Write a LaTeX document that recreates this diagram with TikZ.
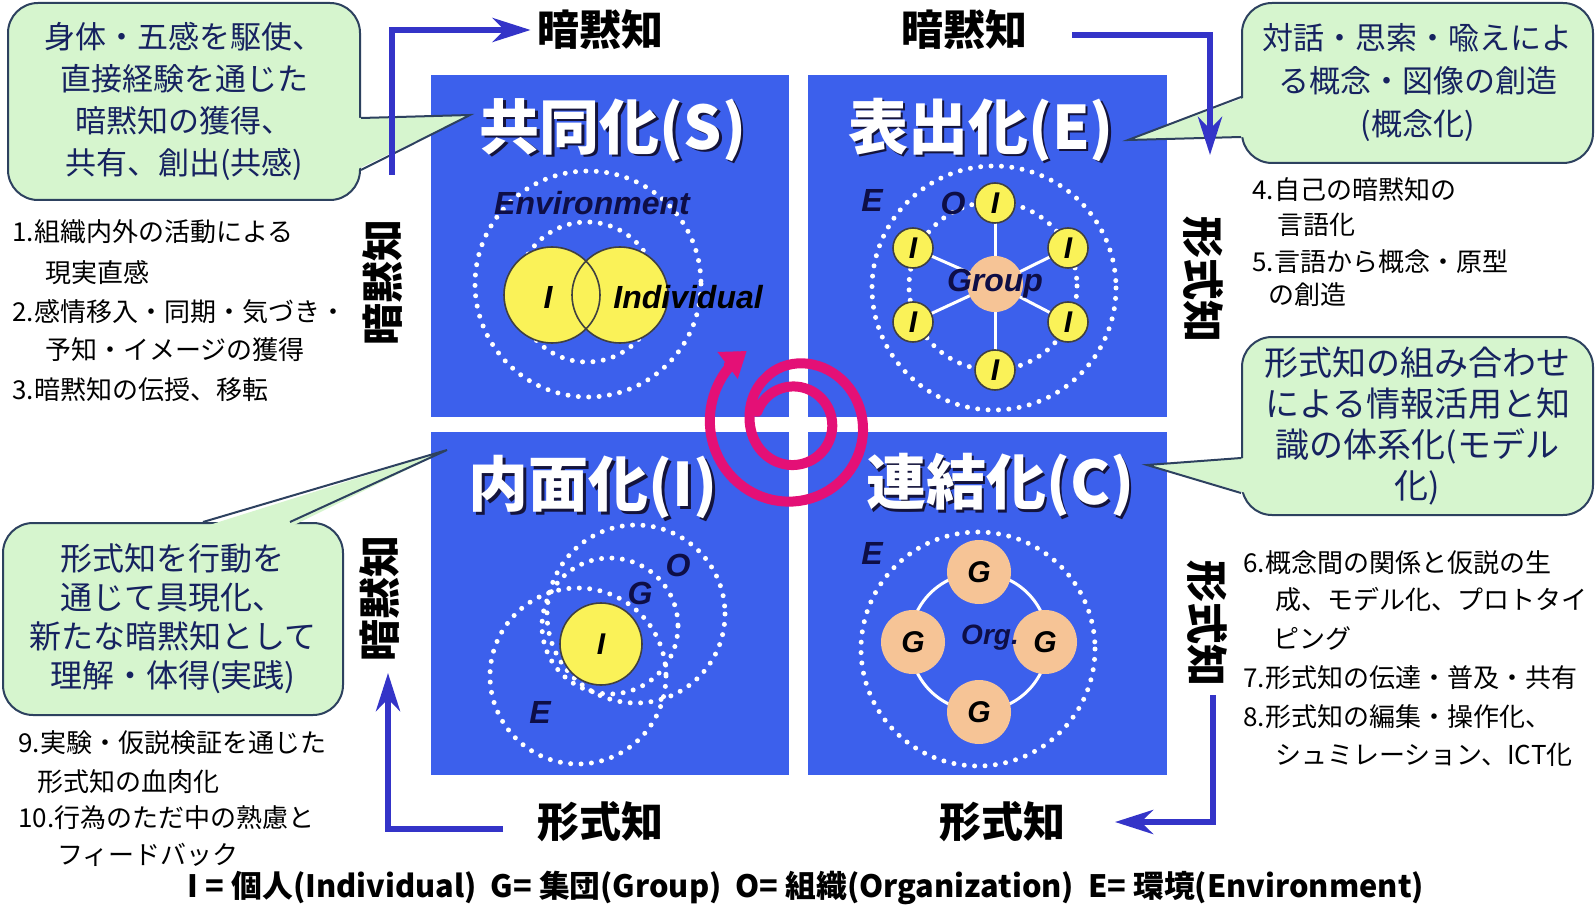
\documentclass[tikz,border=0pt]{standalone}
\usepackage{fontspec}
\usepackage{graphicx}
\setmainfont{Liberation Sans}
\newfontfamily\jp{Noto Sans CJK JP}
\usetikzlibrary{arrows.meta}
\definecolor{qblue}{RGB}{60,96,236}
\definecolor{arrblue}{RGB}{52,52,200}
\definecolor{callfill}{RGB}{214,245,206}
\definecolor{callline}{RGB}{45,65,95}
\definecolor{calltext}{RGB}{22,34,96}
\definecolor{navy}{RGB}{14,14,70}
\definecolor{yel}{RGB}{250,242,88}
\definecolor{peach}{RGB}{246,196,150}
\definecolor{spir}{RGB}{228,16,118}
\definecolor{shade}{RGB}{20,20,60}
\tikzset{
  declare function={sr(\a)=38+0.008*(\a-200)+20/(1+exp(min(-(\a-585)/22,9)))+0.065*max(\a-600,0);},
  dotc/.style={draw=white, line width=2.5pt, line cap=round, dash pattern=on 0pt off 5.2pt},
  ringline/.style={draw=black!75, line width=0.8pt},
  ttl/.style={text=white, font=\jp\bfseries\fontsize{30pt}{30pt}\selectfont, inner sep=0pt},
  ttlsh/.style={text=shade, font=\jp\bfseries\fontsize{30pt}{30pt}\selectfont, inner sep=0pt},
  lbl/.style={font=\bfseries\itshape\fontsize{16pt}{16pt}\selectfont, text=navy, inner sep=0pt},
  axislbl/.style={font=\jp\bfseries\fontsize{21pt}{21pt}\selectfont, inner sep=0pt},
  arr/.style={draw=arrblue, line width=3pt, -{Stealth[length=19pt,width=12pt,inset=6pt]}},
  callout/.style={draw=callline, line width=1pt, fill=callfill, rounded corners=15pt, text=calltext, align=center, inner sep=0pt},
  ptr/.style={draw=callline, line width=1pt, line join=miter},
  lst/.style={font=\jp\fontsize{13pt}{13pt}\selectfont, anchor=west, inner sep=0pt},
  icirc/.style={circle, fill=yel, draw=black!75, line width=0.8pt, minimum size=20pt, inner sep=0pt, font=\bfseries\itshape\fontsize{15pt}{15pt}\selectfont},
  gcirc/.style={circle, fill=peach, minimum size=32pt, inner sep=0pt, font=\bfseries\itshape\fontsize{15pt}{15pt}\selectfont},
}
\begin{document}
\begin{tikzpicture}[x=0.5pt,y=-0.5pt]
\useasboundingbox (0,0) rectangle (1595,909);
\fill[white] (0,0) rectangle (1595,909);
% quadrants
\fill[qblue] (431,75) rectangle (789,417);
\fill[qblue] (808,75) rectangle (1167,417);
\fill[qblue] (431,432) rectangle (789,775);
\fill[qblue] (808,432) rectangle (1167,775);

% ---------- Socialization (TL)
\draw[dotc] (588,284) circle[radius=113];
\draw[dotc] (587,292) circle[radius=70];
\fill[yel] (552,295) circle[radius=48];
\fill[yel] (620,295) circle[radius=48];
\draw[ringline] (552,295) circle[radius=48];
\draw[ringline] (620,295) circle[radius=48];
\node[lbl] (envS) at (592,203) {Environment};
\node[lbl, text=black] (iS) at (548,297) {I};
\node[lbl, text=black, anchor=west] (indS) at (613,297) {Individual};

% ---------- Externalization (TR)
\draw[dotc] (994,288) circle[radius=122];
\draw[dotc] (993,286) circle[radius=84];
\coordinate (gE) at (995,284);
\coordinate (pE1) at (995,203);
\coordinate (pE2) at (1068,248);
\coordinate (pE3) at (1068,322);
\coordinate (pE4) at (995,370);
\coordinate (pE5) at (913,322);
\coordinate (pE6) at (913,248);
\foreach \p in {pE1,pE2,pE3,pE4,pE5,pE6} \draw[white, line width=1.5pt] (gE) -- (\p);
\node[circle, fill=peach, minimum size=28pt, inner sep=0pt] (grpE) at (gE) {};
\node[lbl] (grpEl) at (gE) {Group};
\foreach \p/\n in {pE1/iE1,pE2/iE2,pE3/iE3,pE4/iE4,pE5/iE5,pE6/iE6} \node[icirc] (\n) at (\p) {I};
\node[lbl] (eE) at (872,200) {E};
\node[lbl] (oE) at (953,203) {O};

% ---------- Internalization (BL)
\draw[dotc] (636,614) circle[radius=89];
\draw[dotc] (610,626) circle[radius=68];
\draw[dotc] (578,676) circle[radius=88];
\node[circle, fill=yel, draw=black!75, line width=0.8pt, minimum size=41pt, inner sep=0pt, font=\bfseries\itshape\fontsize{15pt}{15pt}\selectfont] (iI) at (601,644) {I};
\node[lbl] (oI) at (678,565) {O};
\node[lbl] (gI) at (640,593) {G};
\node[lbl] (eI) at (540,712) {E};

% ---------- Combination (BR)
\draw[dotc] (978,649) circle[radius=117];
\draw[white, line width=1.5pt] (979,642) circle[radius=69];
\node[gcirc] (gC1) at (979,572) {G};
\node[gcirc] (gC2) at (1045,642) {G};
\node[gcirc] (gC3) at (979,712) {G};
\node[gcirc] (gC4) at (913,642) {G};
\node[lbl, font=\bfseries\itshape\fontsize{14pt}{14pt}\selectfont] (orgC) at (990,638) {Org.};
\node[lbl] (eC) at (872,553) {E};

% ---------- titles
\node[ttlsh] at (615.5,132.5) {共同化(S)};
\node[ttl] (tS) at (613,130) {共同化(S)};
\node[ttlsh] at (983.5,132.5) {表出化(E)};
\node[ttl] (tE) at (981,130) {表出化(E)};
\node[ttlsh] at (595.5,489.5) {内面化(I)};
\node[ttl] (tI) at (593,487) {内面化(I)};
\node[ttlsh] at (1002.5,487.5) {連結化(C)};
\node[ttl] (tC) at (1000,485) {連結化(C)};

% ---------- spiral
\coordinate (spc) at (793,425);
\draw[draw=spir, line width=5pt, line cap=round, -{Triangle[length=12pt,width=16pt]}]
  plot[domain=200:958, samples=160, variable=\a] ({793+sr(\a)*cos(\a)}, {425+sr(\a)*sin(\a)});

% ---------- callouts
\node[callout, minimum width=176pt, minimum height=98.5pt, font=\jp\fontsize{15.5pt}{21pt}\selectfont] (c1) at (184,101.5)
  {身体・五感を駆使、\\直接経験を通じた\\暗黙知の獲得、\\共有、創出(共感)};
\coordinate (c1t) at (470,115);
\fill[callfill] (356,118) -- (c1t) -- (356,170) -- cycle;
\draw[ptr] (c1.east |- 0,118) -- (c1t) -- (c1.east |- 0,170);

\node[callout, minimum width=175.5pt, minimum height=80pt, font=\jp\fontsize{15.5pt}{21.5pt}\selectfont] (c2) at (1417.5,83)
  {対話・思索・喩えによ\\る概念・図像の創造\\(概念化)};
\coordinate (c2t) at (1128,140);
\fill[callfill] (1246,97) -- (c2t) -- (1246,137) -- cycle;
\draw[ptr] (c2.west |- 0,97) -- (c2t) -- (c2.west |- 0,137);

\node[callout, minimum width=175.5pt, minimum height=89pt, font=\jp\fontsize{17pt}{20.5pt}\selectfont] (c3) at (1417.5,426)
  {形式知の組み合わせ\\による情報活用と知\\識の体系化(モデル\\化)};
\coordinate (c3t) at (1147,465);
\fill[callfill] (1246,458) -- (c3t) -- (1246,493) -- cycle;
\draw[ptr] (c3.west |- 0,458) -- (c3t) -- (c3.west |- 0,493);

\node[callout, minimum width=170pt, minimum height=96pt, font=\jp\fontsize{16pt}{19.5pt}\selectfont] (c4) at (173,619)
  {形式知を行動を\\通じて具現化、\\新たな暗黙知として\\理解・体得(実践)};
\coordinate (c4t) at (447,450);
\fill[callfill] (203,527) -- (c4t) -- (290,527) -- cycle;
\draw[ptr] (c4.north -| 203,0) -- (c4t) -- (c4.north -| 290,0);

% ---------- axis labels
\node[axislbl] (t1) at (600,30) {暗黙知};
\node[axislbl] (t2) at (964,30) {暗黙知};
\node[axislbl] (b1) at (600,822) {形式知};
\node[axislbl] (b2) at (1002,822) {形式知};
\node[axislbl, rotate=90] (v1) at (383,282) {暗黙知};
\node[axislbl, rotate=90] (v2) at (380,598) {暗黙知};
\node[axislbl, rotate=-90] (v3) at (1203,280) {形式知};
\node[axislbl, rotate=-90] (v4) at (1207,623) {形式知};

% ---------- blue arrows
\coordinate (a1s) at (392,175);
\draw[arr] (a1s) -- (a1s |- t1) -- ([xshift=-3pt]t1.west);
\coordinate (a2s) at (1072,35);
\coordinate (a2e) at (1210,155);
\draw[arr] (a2s) -- (a2e |- a2s) -- (a2e);
\coordinate (a3s) at (1213,695);
\coordinate (a3e) at (1115,822);
\draw[arr] (a3s) -- (a3s |- a3e) -- (a3e);
\coordinate (a4s) at (503,829);
\coordinate (a4e) at (388,673);
\draw[arr] (a4s) -- (a4e |- a4s) -- (a4e);

% ---------- lists
\node[lst] (l1) at (12,232) {1.組織内外の活動による};
\node[lst] (l2) at (45,273) {現実直感};
\node[lst] (l3) at (12,312) {2.感情移入・同期・気づき・};
\node[lst] (l4) at (45,350) {予知・イメージの獲得};
\node[lst] (l5) at (12,390) {3.暗黙知の伝授、移転};

\node[lst] (r1) at (1252,190) {4.自己の暗黙知の};
\node[lst] (r2) at (1277,225) {言語化};
\node[lst] (r3) at (1252,262) {5.言語から概念・原型};
\node[lst] (r4) at (1268,295) {の創造};

\node[lst] (s1) at (1243,563) {6.概念間の関係と仮説の生};
\node[lst] (s2) at (1275,600) {成、モデル化、プロトタイ};
\node[lst] (s3) at (1273,638) {ピング};
\node[lst] (s4) at (1243,678) {7.形式知の伝達・普及・共有};
\node[lst] (s5) at (1243,717) {8.形式知の編集・操作化、};
\node[lst] (s6) at (1275,755) {シュミレーション、ICT化};

\node[lst] (u1) at (18,743) {9.実験・仮説検証を通じた};
\node[lst] (u2) at (37,782) {形式知の血肉化};
\node[lst] (u3) at (18,818) {10.行為のただ中の熟慮と};
\node[lst] (u4) at (57,855) {フィードバック};

% ---------- legend
\node[inner sep=0pt, font=\jp\bfseries\fontsize{14pt}{14pt}\selectfont] (leg) at (806,888)
  {\resizebox{618pt}{!}{I = 個人(Individual)\ \ G= 集団(Group)\ \ O= 組織(Organization)\ \ E= 環境(Environment)}};
\end{tikzpicture}
\end{document}
